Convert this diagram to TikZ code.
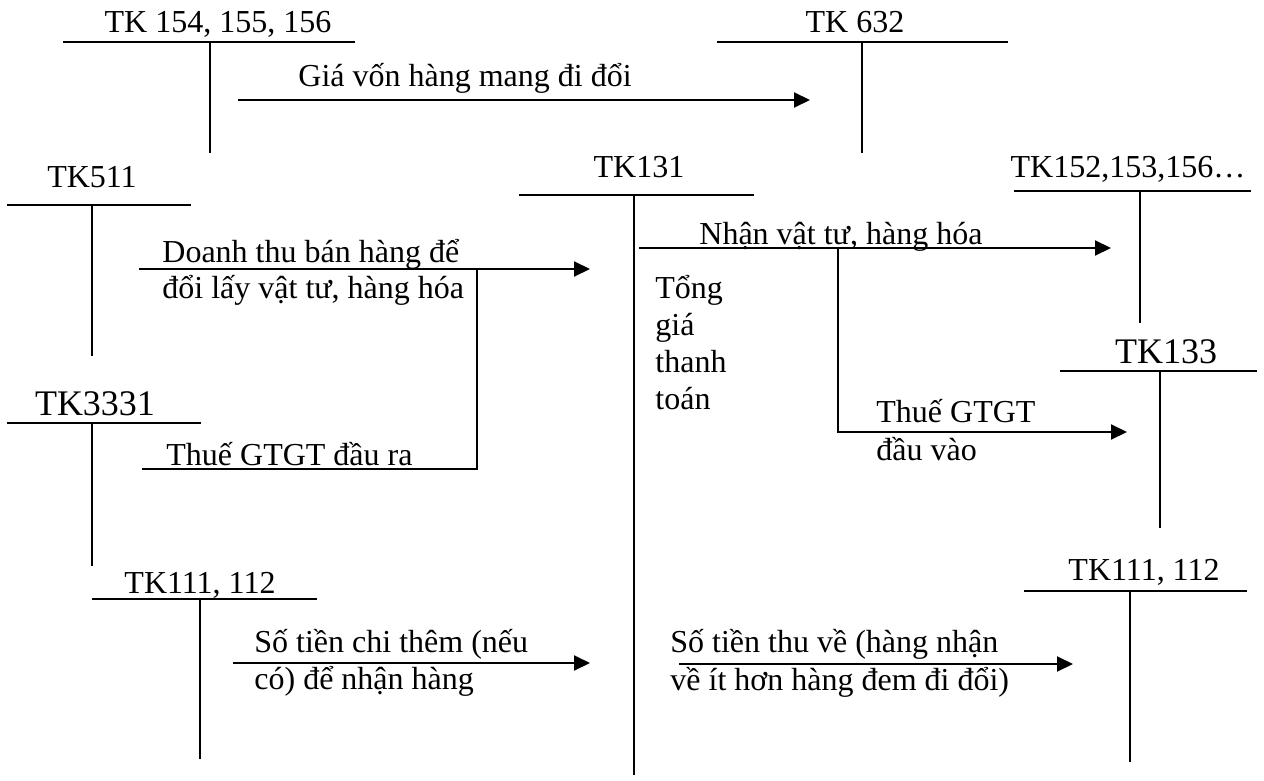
\documentclass[tikz,border=0pt]{standalone}
\usepackage{fontspec}
\setmainfont{Liberation Serif}
\usetikzlibrary{arrows.meta}
\newcommand\bigsz{\fontsize{18pt}{20pt}\selectfont}

\begin{document}
\begin{tikzpicture}[x=0.5pt,y=-0.5pt,font=\fontsize{16pt}{18pt}\selectfont,
  tline/.style={line width=0.65pt},
  flow/.style={line width=1pt,-{Triangle[length=8pt,width=7.5pt]}},
  branch/.style={line width=0.7pt},
  txt/.style={inner sep=0pt,anchor=base west}]
\useasboundingbox (0,0) rectangle (1264,781);
% T accounts: name/label/label x/label y/line y/left/right/stem x/stem end
\foreach \n/\lab/\lx/\ly/\y/\xl/\xr/\vx/\vb in {
  a/{TK 154, 155, 156}/218/33/42/63/355/210/153,
  b/{TK 632}/855/33/42/717/1008/862/153,
  c/{TK511}/92/187/205/7/191/92/356,
  d/{TK131}/639/177/195/519/754/634/775,
  e/{TK152,153,156…}/1128/177/191/1014/1251/1140/323,
  f/{\bigsz TK3331}/95/415/423/7/201/92/566,
  g/{\bigsz TK133}/1166/363/371/1060/1257/1160/528,
  h/{TK111, 112}/200/593/599/92/317/200/759,
  i/{TK111, 112}/1144/580/591/1024/1247/1130/762}{
  \node[inner sep=0pt,anchor=base] (\n) at (\lx,\ly) {\lab};
  \coordinate (\n-l) at (\xl,\y);
  \coordinate (\n-r) at (\xr,\y);
  \coordinate (\n-t) at (\vx,\y);
  \coordinate (\n-b) at (\vx,\vb);
  \draw[tline] (\n-l) -- (\n-r);
  \draw[tline] (\n-t) -- (\n-b);
}

% gia von
\coordinate (g1) at (238,100);
\coordinate (g2) at (810,100);
\draw[flow] (g1) -- (g2);
\node[txt] (giavon) at (298,87) {Giá vốn hàng mang đi đổi};

% doanh thu + thue dau ra
\coordinate (d1) at (139,269);
\coordinate (d2) at (590,269);
\coordinate (dj) at (477,269);
\coordinate (t1) at (142,469);
\draw[flow] (d1) -- (d2);
\draw[branch] (dj) |- (t1);
\node[txt] (dt1) at (162,262) {Doanh thu bán hàng để};
\node[txt] (dt2) at (162,298) {đổi lấy vật tư, hàng hóa};
\node[txt] (tra) at (166,465) {Thuế GTGT đầu ra};

% nhan vat tu + thue dau vao
\coordinate (n1) at (639,248);
\coordinate (n2) at (1111,248);
\coordinate (nj) at (838,248);
\coordinate (v2) at (1127,432);
\draw[flow] (n1) -- (n2);
\draw[flow] (nj) |- (v2);
\node[txt] (nhan) at (699,244) {Nhận vật tư, hàng hóa};
\node[txt] (tv1) at (876,422) {Thuế GTGT};
\node[txt] (tv2) at (876,460) {đầu vào};

\foreach \w [count=\i] in {Tổng,giá,thanh,toán}
  \node[txt] (tong\i) at (655,{298+37*(\i-1)}) {\w};

% tien
\coordinate (c1) at (233,663);
\coordinate (c2) at (590,663);
\draw[flow] (c1) -- (c2);
\node[txt] (chi1) at (254,652) {Số tiền chi thêm (nếu};
\node[txt] (chi2) at (254,689) {có) để nhận hàng};
\coordinate (u1) at (679,664);
\coordinate (u2) at (1073,664);
\draw[flow] (u1) -- (u2);
\node[txt] (thu1) at (670,652) {Số tiền thu về (hàng nhận};
\node[txt] (thu2) at (670,690) {về ít hơn hàng đem đi đổi)};
\end{tikzpicture}
\end{document}
